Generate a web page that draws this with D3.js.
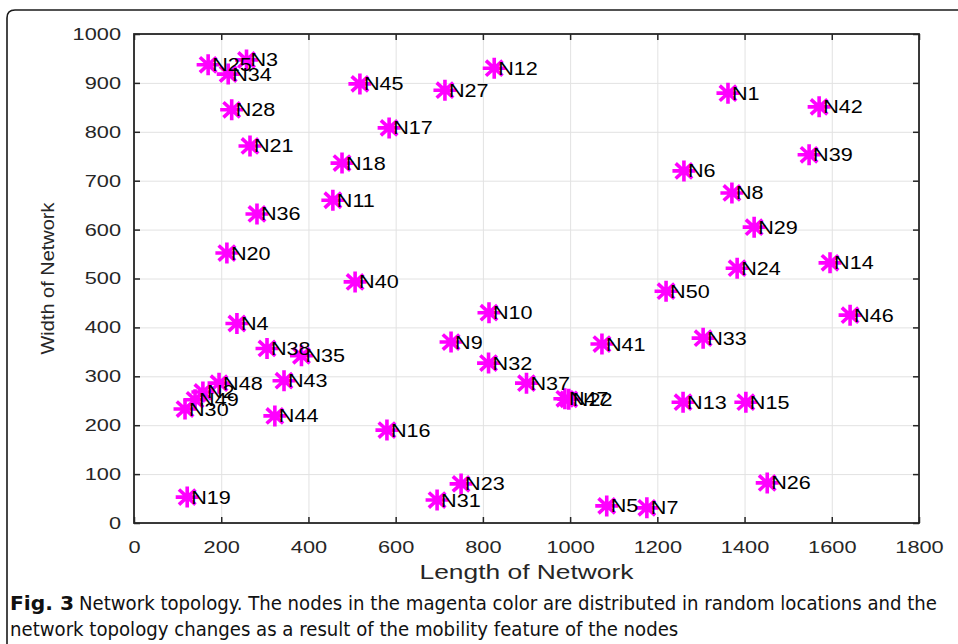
<!DOCTYPE html>
<html>
<head>
<meta charset="utf-8">
<script src="https://cdn.jsdelivr.net/npm/d3@7"></script>
<style>
  body { margin: 0; background: #fff; }
  svg { display: block; }
  .node-label { font: 18px "Liberation Sans", Arial, sans-serif; fill: #000; }
  .tick text { font: 17px "Liberation Sans", Arial, sans-serif; fill: #262626; }
  .axis-label { font: 20px "Liberation Sans", Arial, sans-serif; fill: #262626; }
  .caption { font-size: 19px; font-family: "Liberation Sans Narrow", "DejaVu Sans Condensed", "Open Sans", sans-serif; fill: #111; }
</style>
</head>
<body>
<div id="chart"></div>
<script>
// node names and their positions
var nodeNames = ["N1","N2","N3","N4","N5","N6","N7","N8","N9","N10",
                 "N11","N12","N13","N14","N15","N16","N17","N18","N19","N20",
                 "N21","N22","N23","N24","N25","N26","N27","N28","N29","N30",
                 "N31","N32","N33","N34","N35","N36","N37","N38","N39","N40",
                 "N41","N42","N43","N44","N45","N46","N47","N48","N49","N50"];
var nodeX = [1362, 158, 258, 236, 1084, 1261, 1176, 1371, 727, 814,
             456, 826, 1259, 1596, 1403, 580, 585, 477, 122, 213,
             266, 997, 750, 1383, 170, 1452, 713, 224, 1422, 117,
             695, 813, 1305, 216, 384, 282, 900, 305, 1548, 507,
             1073, 1571, 344, 323, 518, 1642, 988, 195, 140, 1220];
var nodeY = [879, 268, 947, 408, 35, 720, 31, 675, 370, 430,
             660, 930, 247, 532, 247, 190, 808, 736, 53, 552,
             771, 253, 80, 521, 937, 82, 885, 845, 605, 233,
             47, 327, 378, 918, 342, 632, 286, 357, 753, 493,
             366, 851, 291, 219, 898, 425, 254, 286, 252, 474];

var xTicks = [0, 200, 400, 600, 800, 1000, 1200, 1400, 1600, 1800];
var yTicks = [0, 100, 200, 300, 400, 500, 600, 700, 800, 900, 1000];

var xTitle = "Length of Network";
var yTitle = "Width of Network";
var captionBold = "Fig. 3";
var captionLine1 = "Network topology. The nodes in the magenta color are distributed in random locations and the";
var captionLine2 = "network topology changes as a result of the mobility feature of the nodes";

var width = 958, height = 644;
var plotLeft = 134, plotRight = 919, plotTop = 34, plotBottom = 523;
var axisColor = "#262626";
var stretch = 1.28;

var svg = d3.select("#chart").append("svg")
    .attr("width", width)
    .attr("height", height);

svg.append("rect").attr("width", width).attr("height", height).attr("fill", "#fff");

// figure frame (rounded top-left corner)
svg.append("path")
    .attr("d", "M7," + height + " L7,18 Q7,10 15,10 L" + width + ",10")
    .attr("fill", "none")
    .attr("stroke", "#1a1a1a")
    .attr("stroke-width", 1.6);

var x = d3.scaleLinear().domain([0, 1800]).range([plotLeft, plotRight]);
var y = d3.scaleLinear().domain([0, 1000]).range([plotBottom, plotTop]);

// grid
svg.append("g")
    .attr("transform", "translate(0," + plotBottom + ")")
    .call(d3.axisBottom(x).tickValues(xTicks).tickSize(-(plotBottom - plotTop)).tickFormat(""))
    .call(function(g) { g.select(".domain").remove(); })
    .selectAll("line").attr("stroke", "#e2e2e2").attr("stroke-width", 1);

svg.append("g")
    .attr("transform", "translate(" + plotLeft + ",0)")
    .call(d3.axisLeft(y).tickValues(yTicks).tickSize(-(plotRight - plotLeft)).tickFormat(""))
    .call(function(g) { g.select(".domain").remove(); })
    .selectAll("line").attr("stroke", "#e2e2e2").attr("stroke-width", 1);

// axes with inward ticks
var xAxis = svg.append("g")
    .attr("transform", "translate(0," + plotBottom + ")")
    .call(d3.axisBottom(x).tickValues(xTicks).tickSize(-6).tickPadding(18).tickFormat(d3.format("d")));
xAxis.select(".domain").remove();
xAxis.selectAll("line").attr("stroke", axisColor).attr("stroke-width", 1.5);
xAxis.selectAll("text").attr("transform", "scale(" + stretch + ",1)");

var yAxis = svg.append("g")
    .attr("transform", "translate(" + plotLeft + ",0)")
    .call(d3.axisLeft(y).tickValues(yTicks).tickSize(-6).tickFormat(d3.format("d")));
yAxis.select(".domain").remove();
yAxis.selectAll("line").attr("stroke", axisColor).attr("stroke-width", 1.5);
yAxis.selectAll("text")
    .attr("x", -13 / stretch)
    .attr("transform", "scale(" + stretch + ",1)");

var topAxis = svg.append("g")
    .attr("transform", "translate(0," + plotTop + ")")
    .call(d3.axisTop(x).tickValues(xTicks).tickSize(-6).tickFormat(""));
topAxis.select(".domain").remove();
topAxis.selectAll("line").attr("stroke", axisColor).attr("stroke-width", 1.5);

var rightAxis = svg.append("g")
    .attr("transform", "translate(" + plotRight + ",0)")
    .call(d3.axisRight(y).tickValues(yTicks).tickSize(-6).tickFormat(""));
rightAxis.select(".domain").remove();
rightAxis.selectAll("line").attr("stroke", axisColor).attr("stroke-width", 1.5);

// box
svg.append("rect")
    .attr("x", plotLeft).attr("y", plotTop)
    .attr("width", plotRight - plotLeft).attr("height", plotBottom - plotTop)
    .attr("fill", "none")
    .attr("stroke", axisColor)
    .attr("stroke-width", 1.8);

// axis titles
svg.append("text")
    .attr("class", "axis-label")
    .attr("x", (plotLeft + plotRight) / 2)
    .attr("y", 579)
    .attr("text-anchor", "middle")
    .attr("textLength", 214)
    .attr("lengthAdjust", "spacingAndGlyphs")
    .text(xTitle);

svg.append("text")
    .attr("class", "axis-label")
    .attr("transform", "translate(54," + (plotTop + plotBottom) / 2 + ") rotate(-90)")
    .attr("text-anchor", "middle")
    .style("font-size", "18px")
    .attr("textLength", 152)
    .attr("lengthAdjust", "spacingAndGlyphs")
    .text(yTitle);

// nodes
var nodes = nodeNames.map(function(name, i) {
  return { name: name, x: nodeX[i], y: nodeY[i] };
});

// MATLAB style '*' marker: a plus and a cross
var asterisk = {
  draw: function(context, size) {
    var rx = 11.5, ry = 10.5;
    var dx = rx * 0.72, dy = ry * 0.72;
    context.moveTo(-rx, 0); context.lineTo(rx, 0);
    context.moveTo(0, -ry); context.lineTo(0, ry);
    context.moveTo(-dx, -dy); context.lineTo(dx, dy);
    context.moveTo(-dx, dy); context.lineTo(dx, -dy);
  }
};

svg.append("g").selectAll("path")
    .data(nodes)
    .enter().append("path")
    .attr("transform", function(d) { return "translate(" + x(d.x) + "," + y(d.y) + ")"; })
    .attr("d", d3.symbol().type(asterisk))
    .attr("fill", "none")
    .attr("stroke", "#ff00ff")
    .attr("stroke-width", 3.6);

svg.append("g").selectAll("text")
    .data(nodes)
    .enter().append("text")
    .attr("class", "node-label")
    .attr("transform", function(d) {
      return "translate(" + (x(d.x) + 4) + "," + y(d.y) + ") scale(1.2,1)";
    })
    .attr("dy", "0.36em")
    .text(function(d) { return d.name; });

// caption: both lines squeezed by the same factor
svg.append("text")
    .attr("class", "caption")
    .attr("x", 10).attr("y", 610)
    .style("font-weight", "bold")
    .attr("textLength", 64)
    .attr("lengthAdjust", "spacingAndGlyphs")
    .text(captionBold);

var cap1 = svg.append("text")
    .attr("class", "caption")
    .attr("x", 79).attr("y", 610)
    .text(captionLine1);

var cap2 = svg.append("text")
    .attr("class", "caption")
    .attr("x", 10).attr("y", 636)
    .text(captionLine2);

var squeeze = 858 / cap1.node().getComputedTextLength();
cap1.attr("textLength", 858).attr("lengthAdjust", "spacingAndGlyphs");
cap2.attr("textLength", cap2.node().getComputedTextLength() * squeeze)
    .attr("lengthAdjust", "spacingAndGlyphs");
</script>
</body>
</html>
